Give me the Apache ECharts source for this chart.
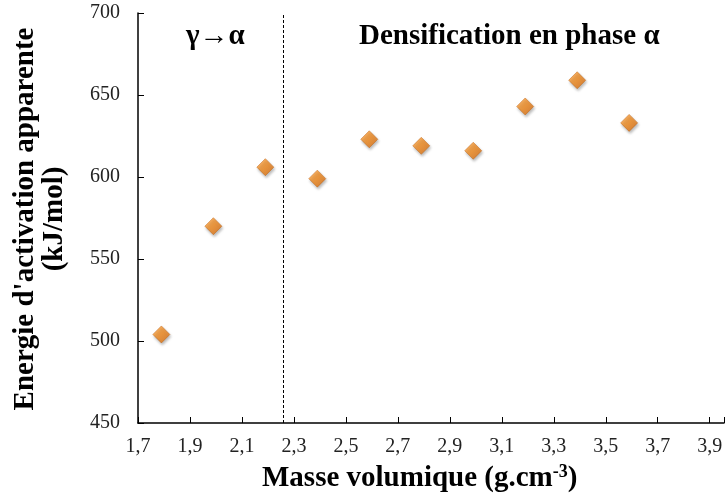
<!DOCTYPE html>
<html><head><meta charset="utf-8">
<script src="https://cdn.jsdelivr.net/npm/echarts@6/dist/echarts.min.js"></script>
<style>html,body{margin:0;padding:0;background:#fff}#c{width:727px;height:497px}</style>
</head><body><div id="c"></div>
<script>
var density = [1.79, 1.99, 2.19, 2.39, 2.59, 2.79, 2.99, 3.19, 3.39, 3.59];
var energy = [504, 570, 606, 599, 623, 619, 616, 643, 659, 633];
var xTicks = ['1,7','1,9','2,1','2,3','2,5','2,7','2,9','3,1','3,3','3,5','3,7','3,9'];
var yTicks = [450, 500, 550, 600, 650, 700];
var boundary = 2.26;
var leftLabel = 'γ→α';
var rightLabel = 'Densification en phase α';
var xTitle = 'Masse volumique (g.cm';
var yTitle = ["Energie d'activation apparente", '(kJ/mol)'];

var chart = echarts.init(document.getElementById('c'));
var font = 'Liberation Serif';
var big = 'bold 29px "Liberation Serif"';
chart.setOption({
  animation: false,
  grid: {left: 138, top: 13, right: 0, bottom: 74, containLabel: false},
  xAxis: {
    type: 'value', min: 1.7, max: 3.955, interval: 0.2,
    axisLine: {lineStyle: {color: '#000', width: 1.5}},
    axisTick: {inside: true, length: 6, lineStyle: {color: '#000'}},
    splitLine: {show: false},
    axisLabel: {
      margin: 14, color: '#222', fontFamily: font, fontSize: 20,
      formatter: function (v) {
        var k = Math.round((v - 1.7) / 0.2);
        if (Math.abs(1.7 + k * 0.2 - v) > 1e-6) return '';
        return xTicks[k] || '';
      }
    }
  },
  yAxis: {
    type: 'value', min: 450, max: 700, interval: 50,
    axisLine: {show: true, lineStyle: {color: '#000', width: 1.5}},
    axisTick: {show: true, inside: true, length: 6, lineStyle: {color: '#000'}},
    splitLine: {show: false},
    axisLabel: {margin: 18, color: '#222', fontFamily: font, fontSize: 20,
      formatter: function (v) { return yTicks.indexOf(v) >= 0 ? String(v) : ''; }}
  },
  graphic: [
    {type: 'text', x: 186, y: 37, style: {text: leftLabel, font: big, fill: '#000', textVerticalAlign: 'middle'}},
    {type: 'text', x: 359, y: 37, style: {text: rightLabel, font: big, fill: '#000', textVerticalAlign: 'middle'}},
    {type: 'text', x: 262, y: 479, style: {
      text: xTitle + '{sup|-3}{p|)}', font: big, fill: '#000', textVerticalAlign: 'middle',
      rich: {
        sup: {fontFamily: font, fontSize: 18, fontWeight: 'bold', color: '#000', padding: [0, 0, 14, 0]},
        p: {fontFamily: font, fontSize: 29, fontWeight: 'bold', color: '#000'}
      }}},
    {type: 'text', x: 26, y: 219, rotation: Math.PI / 2,
      style: {text: yTitle[0], font: big, fill: '#000', textAlign: 'center', textVerticalAlign: 'middle'}},
    {type: 'text', x: 55, y: 219, rotation: Math.PI / 2,
      style: {text: yTitle[1], font: big, fill: '#000', textAlign: 'center', textVerticalAlign: 'middle'}}
  ],
  series: [{
    type: 'scatter',
    data: density.map(function (d, i) { return [d, energy[i]]; }),
    symbol: 'diamond', symbolSize: [17, 17],
    itemStyle: {
      color: new echarts.graphic.LinearGradient(0, 0, 1, 1, [
        {offset: 0, color: '#fba94a'}, {offset: 0.5, color: '#f28a1e'}, {offset: 1, color: '#d46a12'}
      ]),
      borderColor: '#c0600f', borderWidth: 0.6,
      shadowBlur: 3, shadowColor: 'rgba(0,0,0,0.35)', shadowOffsetX: 1, shadowOffsetY: 2
    },
    markLine: {
      silent: true, symbol: 'none', label: {show: false},
      lineStyle: {color: '#000', type: [3, 2], width: 1},
      data: [{xAxis: boundary}]
    }
  }]
});
</script></body></html>
